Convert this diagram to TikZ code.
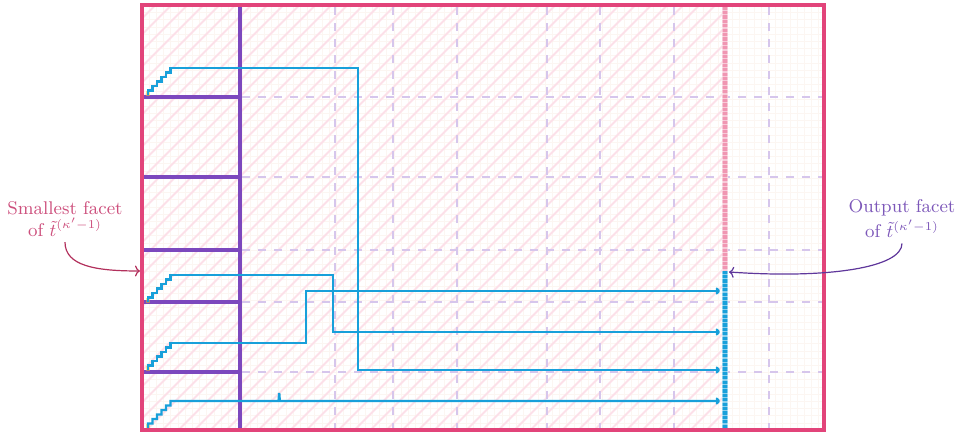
\documentclass[tikz,border=0pt]{standalone}
\usepackage{amsmath}
\usetikzlibrary{arrows.meta}

\definecolor{rosa}{RGB}{226,68,122}
\definecolor{rosaclaro}{RGB}{252,224,233}
\definecolor{malla}{RGB}{252,246,242}
\definecolor{morado}{RGB}{124,72,190}
\definecolor{lila}{RGB}{214,198,236}
\definecolor{celeste}{RGB}{24,160,218}
\definecolor{franja}{RGB}{240,150,178}
\definecolor{textorosa}{RGB}{205,80,125}
\definecolor{flecharosa}{RGB}{178,48,92}
\definecolor{textomorado}{RGB}{125,88,185}
\definecolor{flechamorado}{RGB}{95,55,155}

\begin{document}
\begin{tikzpicture}[
    x=0.5pt,
    y=-0.5pt,
    marco/.style={draw=rosa, line width=2pt},
    cuadricula/.style={draw=malla, line width=0.4pt},
    rayado/.style={draw=rosaclaro, line width=0.9pt},
    divisoria/.style={draw=morado, line width=1.6pt},
    guia/.style={draw=lila, line width=1.4pt, dash pattern=on 4pt off 4pt},
    ruta/.style={draw=celeste, line width=1.2pt, -{To[length=2.2pt,width=3.6pt]}},
    nota/.style={font=\fontsize{9.2}{10.5}\selectfont, align=center, inner sep=2.5pt},
    flecha/.style={line width=0.6pt, -{To[length=2.5pt,width=5.5pt]}}
]
\useasboundingbox (0,0) rectangle (959,432);

% Fondo: cuadricula fina y rayado
\begin{scope}
    \clip (142,5.5) rectangle (824,430.5);
    \foreach \u in {142,149.2,...,824} \draw[cuadricula] (\u,5.5) -- (\u,430.5);
    \foreach \v in {5.5,12.7,...,431} \draw[cuadricula] (142,\v) -- (824,\v);
    \clip (142,5.5) rectangle (724,430.5);
    \foreach \u in {-430,-414,...,724} \draw[rayado] (\u,430.5) -- (\u+425,5.5);
\end{scope}

% Particiones
\foreach \u in {335,393,457,547,600,674,769}
    \draw[guia] (\u,7.5) -- (\u,430.5);
\foreach \v in {97,177,250,302,372} {
    \draw[guia] (242,\v) -- (824,\v);
    \draw[divisoria] (142,\v) -- (240,\v);
}
\draw[divisoria] (240,5.5) -- (240,430.5);

% Faceta de salida
\fill[franja] (721.5,5.5) rectangle (727.5,271);
\fill[celeste] (721.5,271) rectangle (727.5,430.5);
\draw[white, opacity=0.5, line width=3pt, dash pattern=on 0.6pt off 1.6pt] (724.5,5.5) -- (724.5,430.5);
\draw[white, opacity=0.45, line width=0.3pt] (721.8,5.5) -- (721.8,430.5) (727.2,5.5) -- (727.2,430.5);

% Rutas
\coordinate (ini1) at (148,95);
\coordinate (ini2) at (148,302);
\coordinate (ini3) at (148,370);
\coordinate (ini4) at (148,428);
\coordinate (fin1) at (720,370);
\coordinate (fin2) at (720,332);
\coordinate (fin3) at (720,291);
\coordinate (fin4) at (720,401);
\foreach \p in {ini1,ini2,ini3,ini4}
    \fill[yellow!70!orange, opacity=0.45] ([xshift=-1pt,yshift=-0.5pt]\p) rectangle ([xshift=1pt,yshift=2pt]\p);

\draw[ruta] (ini1) foreach \k in {1,...,5} {-- ++(0,-4.5) -- ++(4.5,0)} -- ++(0,-4.5)
    -- (358,68) |- (fin1);
\draw[ruta] (ini2) foreach \k in {1,...,5} {-- ++(0,-4.5) -- ++(4.5,0)} -- ++(0,-4.5)
    -- (333,275) |- (fin2);
\draw[ruta] (ini3) foreach \k in {1,...,5} {-- ++(0,-4.5) -- ++(4.5,0)} -- ++(0,-4.5)
    -- (306,343) |- (fin3);
\draw[ruta] (ini4) foreach \k in {1,...,5} {-- ++(0,-4.5) -- ++(4.5,0)} -- ++(0,-4.5)
    -- (278.6,401) -- (279.2,393) -- (279.8,401) -- (fin4);

% Marco
\draw[marco] (142,5.5) rectangle (824,430.5);

% Notas
\node[nota, text=textorosa] (menor) at (65,219) {Smallest facet\\[0.6pt]of $\tilde{t}^{(\kappa'-1)}$};
\node[nota, text=textomorado] (salida) at (902,219) {Output facet\\[0.6pt]of $\tilde{t}^{(\kappa'-1)}$};
\coordinate (entrada) at (140,271);
\coordinate (llegada) at (729,272);
\draw[flecha, flecharosa] (menor.south) to[out=-90, in=180, out distance=12pt, in distance=22pt] (entrada);
\draw[flecha, flechamorado] (salida.south) to[out=-90, in=-4, out distance=12pt, in distance=50pt] (llegada);

\end{tikzpicture}
\end{document}
